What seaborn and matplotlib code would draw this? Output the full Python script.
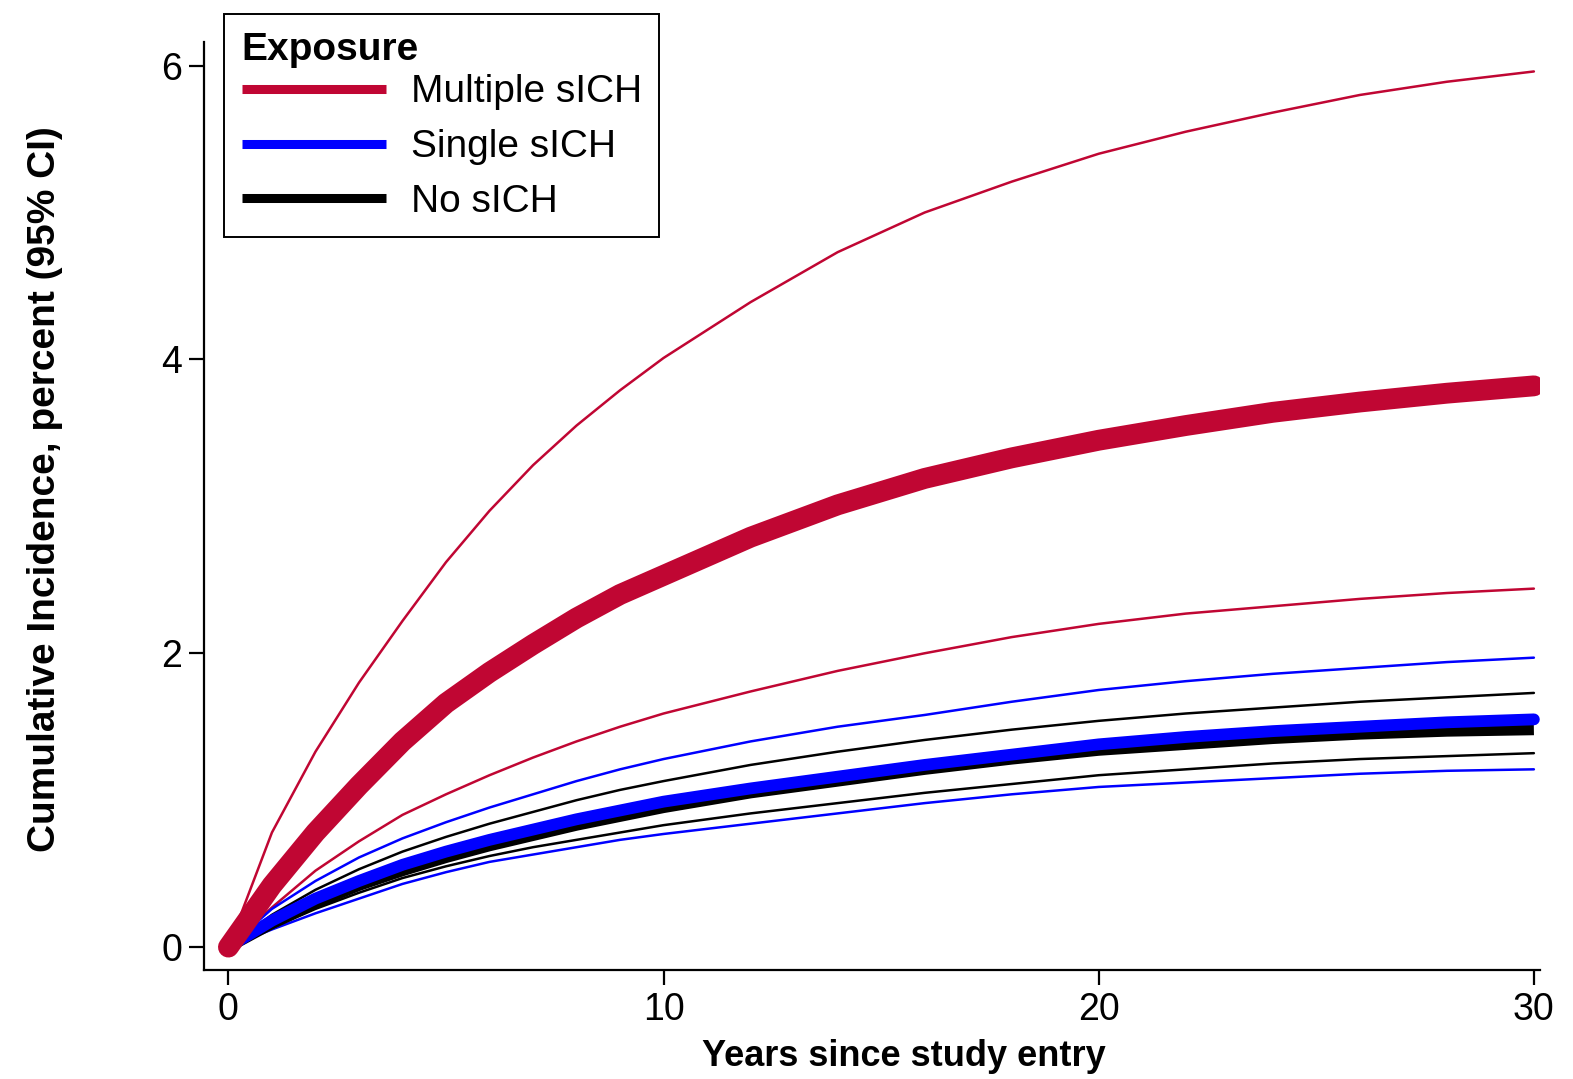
import numpy as np
import pandas as pd
import seaborn as sns
import matplotlib.pyplot as plt
from matplotlib.lines import Line2D

# years since study entry at which the curves were read
years = [0, 1, 2, 3, 4, 5, 6, 7, 8, 9, 10, 12, 14, 16, 18, 20, 22, 24, 26, 28, 30]

# Multiple sICH
multi_est = [0, 0.42, 0.78, 1.10, 1.40, 1.66, 1.87, 2.06, 2.24, 2.40, 2.53, 2.79,
             3.01, 3.19, 3.33, 3.45, 3.55, 3.64, 3.71, 3.77, 3.82]
multi_hi = [0, 0.78, 1.33, 1.80, 2.22, 2.62, 2.97, 3.28, 3.55, 3.79, 4.01, 4.39,
            4.73, 5.00, 5.21, 5.40, 5.55, 5.68, 5.80, 5.89, 5.96]
multi_lo = [0, 0.27, 0.52, 0.72, 0.90, 1.04, 1.17, 1.29, 1.40, 1.50, 1.59, 1.74,
            1.88, 2.00, 2.11, 2.20, 2.27, 2.32, 2.37, 2.41, 2.44]

# Single sICH
single_est = [0, 0.18, 0.33, 0.45, 0.56, 0.65, 0.73, 0.80, 0.87, 0.93, 0.99, 1.08,
              1.16, 1.24, 1.31, 1.38, 1.43, 1.47, 1.50, 1.53, 1.55]
single_hi = [0, 0.26, 0.45, 0.61, 0.74, 0.85, 0.95, 1.04, 1.13, 1.21, 1.28, 1.40,
             1.50, 1.58, 1.67, 1.75, 1.81, 1.86, 1.90, 1.94, 1.97]
single_lo = [0, 0.12, 0.23, 0.33, 0.43, 0.51, 0.58, 0.63, 0.68, 0.73, 0.77, 0.84,
             0.91, 0.98, 1.04, 1.09, 1.12, 1.15, 1.18, 1.20, 1.21]

# No sICH
none_est = [0, 0.16, 0.30, 0.42, 0.52, 0.61, 0.69, 0.76, 0.83, 0.89, 0.95, 1.05,
            1.13, 1.21, 1.28, 1.34, 1.38, 1.42, 1.45, 1.47, 1.48]
none_hi = [0, 0.22, 0.39, 0.53, 0.65, 0.75, 0.84, 0.92, 1.00, 1.07, 1.13, 1.24,
           1.33, 1.41, 1.48, 1.54, 1.59, 1.63, 1.67, 1.70, 1.73]
none_lo = [0, 0.13, 0.26, 0.37, 0.47, 0.55, 0.62, 0.68, 0.73, 0.78, 0.83, 0.91,
           0.98, 1.05, 1.11, 1.17, 1.21, 1.25, 1.28, 1.30, 1.32]

groups = ["Multiple sICH", "Single sICH", "No sICH"]
colors = {"Multiple sICH": "#c00633", "Single sICH": "#0000ff", "No sICH": "#000000"}

sns.set_theme(style="white")
plt.rcParams["font.family"] = ["Liberation Sans", "DejaVu Sans"]
plt.rcParams["text.color"] = "black"
plt.rcParams["axes.labelcolor"] = "black"
plt.rcParams["xtick.color"] = "black"
plt.rcParams["ytick.color"] = "black"

fig = plt.figure(figsize=(15.73, 10.79), dpi=100)
ax = fig.add_axes([0.130, 0.101, 0.849, 0.860])

cis = [
    (multi_lo, multi_hi, "Multiple sICH"),
    (single_lo, single_hi, "Single sICH"),
    (none_lo, none_hi, "No sICH"),
]
for lo, hi, g in cis:
    for vals in (lo, hi):
        sns.lineplot(x=years, y=vals, ax=ax, color=colors[g], linewidth=1.8)

# thick estimate lines, black first so blue and red sit on top
sns.lineplot(x=years, y=none_est, ax=ax, color=colors["No sICH"], linewidth=8,
             solid_capstyle="butt")
sns.lineplot(x=years, y=single_est, ax=ax, color=colors["Single sICH"], linewidth=8.5,
             solid_capstyle="round")
sns.lineplot(x=years, y=multi_est, ax=ax, color=colors["Multiple sICH"], linewidth=15,
             solid_capstyle="round")

ax.set_xlim(-0.55, 30.14)
ax.set_ylim(-0.156, 6.16)
ax.set_xticks([0, 10, 20, 30])
ax.set_yticks([0, 2, 4, 6])
ax.tick_params(axis="both", which="major", labelsize=27, length=11, width=1.6,
               color="black", labelcolor="black", direction="out",
               bottom=True, left=True, pad=5)
ax.set_xlabel("Years since study entry", fontsize=26, fontweight="bold")
ax.set_ylabel("Cumulative Incidence, percent (95% CI)", fontsize=28, fontweight="bold")
ax.xaxis.set_label_coords(0.524, -0.074)
ax.yaxis.set_label_coords(-0.106, 0.518)
sns.despine(ax=ax)
for side in ("left", "bottom"):
    ax.spines[side].set_color("black")
    ax.spines[side].set_linewidth(1.6)

handles = [Line2D([0], [0], color=colors[g], linewidth=6.5, solid_capstyle="butt")
           for g in groups]
leg = fig.legend(handles, groups, title="Exposure", loc="upper left",
                 bbox_to_anchor=(0.1425, 0.987), fontsize=28, title_fontsize=28,
                 frameon=True, fancybox=False, edgecolor="black", framealpha=1,
                 handlelength=3.7, borderpad=0.45, labelspacing=0.48,
                 handletextpad=0.65, alignment="left", borderaxespad=0)
leg.get_title().set_fontweight("bold")
leg.get_frame().set_linewidth(1.4)
# tighter gap between the title and the first entry
leg._legend_box.sep = 5

fig.savefig("out.png", dpi=100)
